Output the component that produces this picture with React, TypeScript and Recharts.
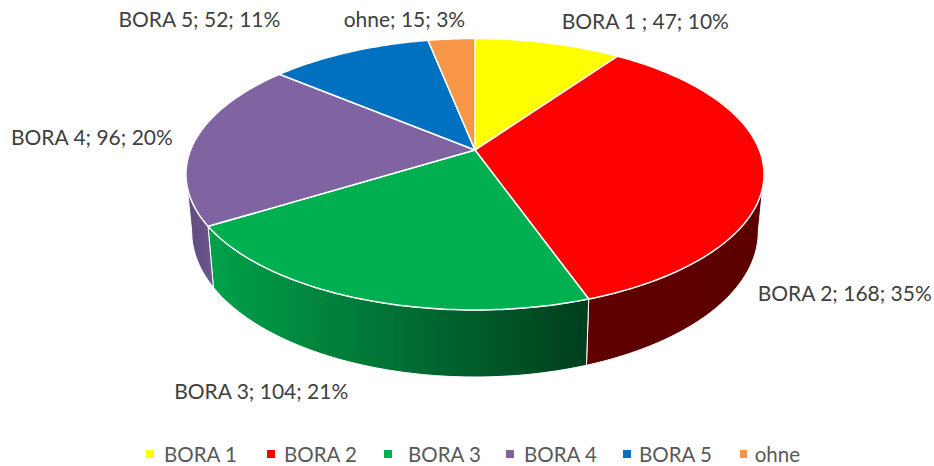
import { Legend, Pie, PieChart } from "recharts";

const categories = ["BORA 1", "BORA 2", "BORA 3", "BORA 4", "BORA 5", "ohne"];
const sliceLabels = ["BORA 1 ", "BORA 2", "BORA 3", "BORA 4", "BORA 5", "ohne"];
const values = [47, 168, 104, 96, 52, 15];
const percents = ["10%", "35%", "21%", "20%", "11%", "3%"];
const colors = ["#ffff00", "#ff0000", "#00b050", "#8064a2", "#0070c0", "#f79646"];
const wallFrom = ["#808000", "#600000", "#00a24a", "#5f4b7c", "#004070", "#8a5020"];
const wallTo = ["#808000", "#5c0000", "#003e1d", "#6d5690", "#004070", "#8a5020"];
const labelNudge = [
  [97, -22],
  [81, 124],
  [-100, 91],
  [-103, -4],
  [-150, -33],
  [-47, -20],
];
const legendPitch = [121, 117, 122, 117, 117, 60];
const legendTextGap = [10, 9, 16, 10, 8, 8];

const rows = categories.map((name, i) => ({ name, value: values[i], fill: colors[i] }));

// fake 3D: the flat disc is pushed through a small perspective
const RX = 284.4;
const RY = 131.4;
const TILT = 0.1786;
const RAD = Math.PI / 180;

function rim(cx: number, cy: number, deg: number) {
  const u = Math.cos(deg * RAD);
  const v = Math.sin(deg * RAD);
  const w = 1 + TILT * v;
  return [cx + (RX * u) / w, cy - (RY * v) / w];
}

function lowerRim(cx: number, cy: number, deg: number) {
  const [x, y] = rim(cx, cy, deg);
  return [cx + 0.98 * (x - cx), cy + 55.6 + 1.0714 * (y - cy)];
}

function arcPoints(fn: typeof rim, cx: number, cy: number, from: number, to: number) {
  const steps = Math.max(2, Math.ceil(Math.abs(from - to)));
  const pts: string[] = [];
  for (let i = 0; i <= steps; i++) {
    const [x, y] = fn(cx, cy, from + ((to - from) * i) / steps);
    pts.push(`${x.toFixed(2)} ${y.toFixed(2)}`);
  }
  return pts;
}

function TopSlice(props: any) {
  const { cx, cy, startAngle, endAngle, fill } = props;
  const d = `M${cx} ${cy} L${arcPoints(rim, cx, cy, startAngle, endAngle).join(" L")} Z`;
  return <path d={d} fill={fill} stroke="#ffffff" strokeWidth={1.5} strokeLinejoin="round" />;
}

function WallSlice(props: any) {
  const { cx, cy, startAngle, endAngle, index } = props;
  // only the front of the side wall shows, between the widest points of the rim
  const from = Math.min(startAngle, -10.3);
  const to = Math.max(endAngle, -169.7);
  if (from <= to) return <g />;
  const top = arcPoints(rim, cx, cy, from, to);
  const low = arcPoints(lowerRim, cx, cy, to, from);
  const d = `M${top.join(" L")} L${low.join(" L")} Z`;
  return <path d={d} fill={`url(#wall${index})`} stroke="#ffffff" strokeWidth={1} strokeLinejoin="round" />;
}

function SliceLabel(props: any) {
  const { cx, cy, midAngle, index } = props;
  const [x, y] = rim(cx, cy, midAngle);
  return (
    <text
      x={x + labelNudge[index][0]}
      y={y + labelNudge[index][1]}
      textAnchor="middle"
      dominantBaseline="central"
      fontFamily="Lato"
      fontSize={21}
      fill="#404040"
    >
      {`${sliceLabels[index]}; ${values[index]}; ${percents[index]}`}
    </text>
  );
}

function LegendRow() {
  return (
    <div style={{ display: "flex", paddingLeft: 146, fontFamily: "Lato", fontSize: 20.5, color: "#595959" }}>
      {categories.map((name, i) => (
        <div key={name} style={{ display: "flex", alignItems: "center", width: legendPitch[i] }}>
          <span style={{ width: 8, height: 8, background: colors[i], marginRight: legendTextGap[i] }} />
          {name}
        </div>
      ))}
    </div>
  );
}

export default function App() {
  return (
    <div style={{ width: 934, height: 466 }}>
      <style>{`body{margin:0}`}</style>
      <PieChart width={934} height={466} margin={{ top: 0, right: 0, bottom: 0, left: 0 }}>
        <defs>
          {categories.map((name, i) => (
            <linearGradient key={name} id={`wall${i}`} x1="0" y1="0" x2="1" y2="0">
              <stop offset="0" stopColor={wallFrom[i]} />
              <stop offset="1" stopColor={wallTo[i]} />
            </linearGradient>
          ))}
        </defs>
        <Pie
          data={rows}
          dataKey="value"
          nameKey="name"
          cx={475}
          cy={150}
          outerRadius={130}
          startAngle={90}
          endAngle={-270}
          shape={WallSlice}
          inactiveShape={WallSlice}
          activeShape={WallSlice}
          legendType="none"
          isAnimationActive={false}
        />
        <Pie
          data={rows}
          dataKey="value"
          nameKey="name"
          cx={475}
          cy={150}
          outerRadius={130}
          startAngle={90}
          endAngle={-270}
          shape={TopSlice}
          inactiveShape={TopSlice}
          activeShape={TopSlice}
          label={SliceLabel}
          labelLine={false}
          isAnimationActive={false}
        />
        <Legend verticalAlign="bottom" content={LegendRow} wrapperStyle={{ bottom: 0, left: 0 }} />
      </PieChart>
    </div>
  );
}
